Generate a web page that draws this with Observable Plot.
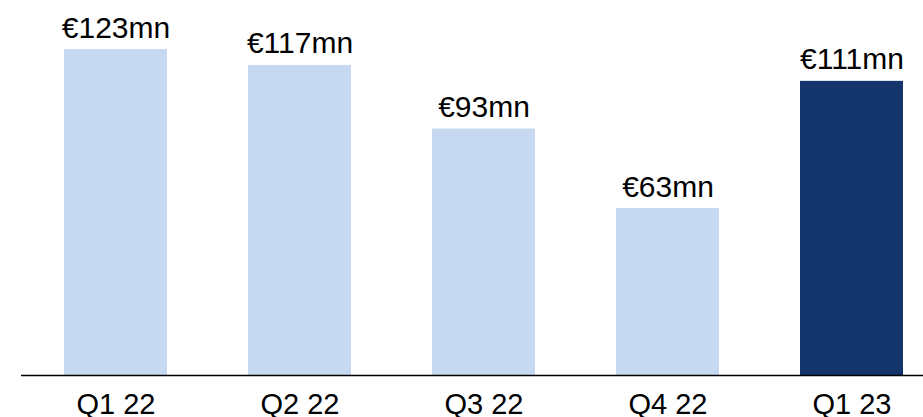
<!DOCTYPE html>
<html>
<head>
<meta charset="utf-8">
<script src="https://cdn.jsdelivr.net/npm/d3@7"></script>
<script src="https://cdn.jsdelivr.net/npm/@observablehq/plot@0.6"></script>
<style>
html, body { margin: 0; padding: 0; background: #fff; }
svg { display: block; }
</style>
</head>
<body>
<div id="chart"></div>
<script>
const quarters = ["Q1 22", "Q2 22", "Q3 22", "Q4 22", "Q1 23"];
const values = [123, 117, 93, 63, 111];
const labels = ["€123mn", "€117mn", "€93mn", "€63mn", "€111mn"];
const highlight = [false, false, false, false, true];

const data = quarters.map((q, i) => ({q, v: values[i], label: labels[i], hi: highlight[i]}));

const chart = Plot.plot({
  width: 923,
  height: 417,
  marginTop: 4,
  marginBottom: 42,
  marginLeft: 21,
  marginRight: 0,
  style: {fontFamily: "'Liberation Sans', Arial, sans-serif", fontSize: "29px", color: "#000", background: "#fff", overflow: "visible"},
  x: {domain: quarters, paddingInner: 0.442, paddingOuter: 0.165, align: 0.672, axis: null, label: null},
  y: {domain: [0, 140], axis: null},
  marks: [
    Plot.barY(data, {x: "q", y: "v", fill: d => d.hi ? "#14356b" : "#c6d9f1"}),
    Plot.text(data, {x: "q", y: "v", text: "label", lineAnchor: "bottom", dy: -12, fontSize: 30, fill: "#000"}),
    Plot.text(data, {x: "q", text: "q", frameAnchor: "bottom", lineAnchor: "bottom", dy: 38, fontSize: 29, fill: "#000"}),
    Plot.ruleY([0], {stroke: "#000", strokeWidth: 1.5})
  ]
});
document.getElementById("chart").appendChild(chart);
</script>
</body>
</html>
